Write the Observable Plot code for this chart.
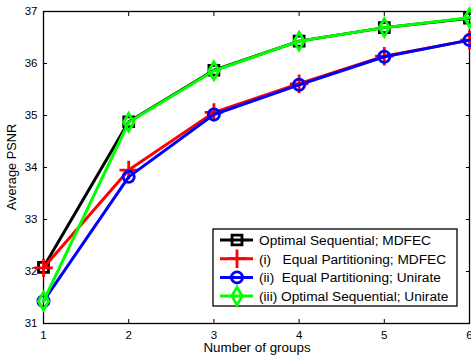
<!DOCTYPE html>
<html>
<head>
<meta charset="utf-8">
<script src="https://cdn.jsdelivr.net/npm/d3@7"></script>
<script src="https://cdn.jsdelivr.net/npm/@observablehq/plot@0.6"></script>
<style>
  html, body { margin: 0; padding: 0; background: #fff; }
  #chart { position: relative; width: 471px; height: 356px; }
  svg { font-family: "Liberation Sans", Arial, Helvetica, sans-serif; }
</style>
</head>
<body>
<div id="chart"></div>
<script>
const groups = [1, 2, 3, 4, 5, 6];
const optSeqMDFEC   = [32.08, 34.88, 35.87, 36.43, 36.69, 36.87];
const eqPartMDFEC   = [32.07, 33.95, 35.06, 35.61, 36.14, 36.45];
const eqPartUnirate = [31.43, 33.82, 35.02, 35.59, 36.13, 36.45];
const optSeqUnirate = [31.43, 34.87, 35.86, 36.43, 36.69, 36.88];

const xTicks = [1, 2, 3, 4, 5, 6];
const yTicks = [31, 32, 33, 34, 35, 36, 37];

const seriesNames = [
  "Optimal Sequential; MDFEC",
  "(i)   Equal Partitioning; MDFEC",
  "(ii)  Equal Partitioning; Unirate",
  "(iii) Optimal Sequential; Unirate"
];
const seriesValues = [optSeqMDFEC, eqPartMDFEC, eqPartUnirate, optSeqUnirate];
const seriesColors = ["#000000", "#ff0000", "#0000ff", "#00ff00"];
const seriesSymbols = ["square", "plus", "circle", "diamond"];
const seriesR = [5.6, 6, 5.6, 5.4];

const rows = [];
seriesNames.forEach((name, i) => {
  groups.forEach((g, j) => rows.push({series: name, idx: i, x: g, y: seriesValues[i][j]}));
});

const marks = [];
seriesNames.forEach((name, i) => {
  const d = rows.filter(r => r.idx === i);
  marks.push(Plot.line(d, {x: "x", y: "y", stroke: seriesColors[i], strokeWidth: 3}));
  marks.push(Plot.dot(d, {x: "x", y: "y", symbol: () => seriesSymbols[i], r: seriesR[i], stroke: seriesColors[i], fill: "none", strokeWidth: 2.8}));
});

const fmt = d3.format("d");
const chart = Plot.plot({
  width: 471,
  height: 356,
  marginLeft: 43,
  marginTop: 11,
  marginBottom: 33,
  marginRight: 2,
  x: {domain: [1, 6], ticks: xTicks, label: null},
  y: {domain: [31, 37], ticks: yTicks, label: null},
  marks: [
    Plot.axisX({ticks: xTicks, anchor: "bottom", tickSize: 0, tickPadding: 7, fontSize: 11.5, tickFormat: fmt, label: null}),
    Plot.axisY({ticks: yTicks, anchor: "left", tickSize: 0, tickPadding: 6, fontSize: 11.5, tickFormat: fmt, label: null}),
    Plot.axisX({ticks: xTicks, anchor: "bottom", tickSize: -4, tickFormat: () => "", label: null}),
    Plot.axisX({ticks: xTicks, anchor: "top", tickSize: -4, tickFormat: () => "", label: null}),
    Plot.axisY({ticks: yTicks, anchor: "left", tickSize: -4, tickFormat: () => "", label: null}),
    Plot.axisY({ticks: yTicks, anchor: "right", tickSize: -4, tickFormat: () => "", label: null}),
    Plot.frame({stroke: "#000", strokeWidth: 1.3}),
    ...marks
  ]
});
chart.style.fontFamily = '"Liberation Sans", Arial, sans-serif';
document.getElementById("chart").appendChild(chart);

const svg = d3.select(chart);
// axis titles
svg.append("text").attr("x", 257).attr("y", 352).attr("text-anchor", "middle")
  .attr("font-size", 13.4).attr("fill", "#000").text("Number of groups");
svg.append("text").attr("transform", "translate(16,167) rotate(-90)").attr("text-anchor", "middle")
  .attr("font-size", 12.8).attr("fill", "#000").text("Average PSNR");

// legend
const lg = svg.append("g").attr("text-anchor", "start");
lg.append("rect").attr("x", 213).attr("y", 229).attr("width", 244).attr("height", 77)
  .attr("fill", "#fff").attr("stroke", "#000").attr("stroke-width", 1.3);
const symGen = {square: d3.symbolSquare, plus: d3.symbolPlus, circle: d3.symbolCircle, diamond: d3.symbolDiamond};
seriesNames.forEach((name, i) => {
  const cy = 240 + i * 18.7;
  lg.append("line").attr("x1", 220).attr("x2", 253).attr("y1", cy).attr("y2", cy)
    .attr("stroke", seriesColors[i]).attr("stroke-width", 3);
  lg.append("path").attr("transform", `translate(237,${cy})`)
    .attr("d", d3.symbol(symGen[seriesSymbols[i]], Math.PI * seriesR[i] * seriesR[i])())
    .attr("fill", "none").attr("stroke", seriesColors[i]).attr("stroke-width", 2.8);
  lg.append("text").attr("x", 259).attr("y", cy + 4.8).attr("font-size", 13.7)
    .attr("text-anchor", "start")
    .attr("fill", "#000").style("white-space", "pre").text(name);
});
</script>
</body>
</html>
